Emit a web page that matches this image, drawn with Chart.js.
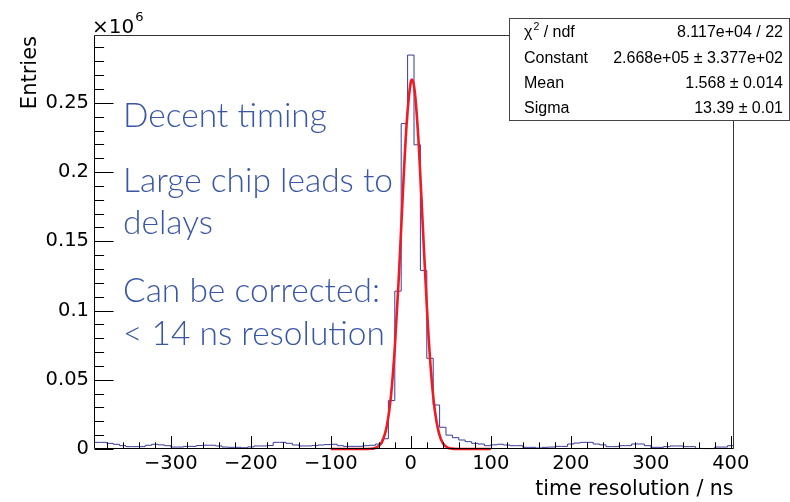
<!DOCTYPE html>
<html>
<head>
<meta charset="utf-8">
<script src="https://cdn.jsdelivr.net/npm/chart.js@4.4.1/dist/chart.umd.min.js"></script>
<style>
  html, body { margin: 0; padding: 0; background: #fff; }
  #wrap { width: 790px; height: 502px; }
</style>
</head>
<body>
<div id="wrap"><canvas id="c" width="790" height="502"></canvas></div>
<script>
// time resolution histogram, 100 bins of 8 ns starting at -396 ns
var BIN_LOW = -396;
var BIN_WIDTH = 8;
var binCounts = [
  4800, 4800, 4100, 3400, 2400, 1700, 1700, 1700, 2700, 3400,
  3000, 2400, 1400, 1400, 1900, 1900, 2500, 2700, 2700, 2200,
  1400, 1200, 1200, 900, 1500, 2200, 2200, 2500, 4800, 4800,
  4100, 2900, 2200, 2200, 2500, 2900, 3200, 3400, 2400, 1900,
  1900, 1900, 2400, 2700, 3600, 7400, 35000, 114000, 235000, 284500,
  219700, 129000, 65500, 31800, 15700, 10000, 8200, 6500, 5300, 4100,
  3600, 2400, 3000, 3400, 2900, 2400, 2400, 1200, 1200, 700,
  1200, 1400, 1900, 1900, 3600, 4300, 4800, 4800, 3600, 3000,
  1700, 1700, 2400, 2400, 3600, 3600, 2400, 1200, 1200, 1700,
  2200, 2200, 1700, 1700, 400, 300, 300, 1400, 1400, 2400
];

// gaussian fit curve
var fitX = [-100, -60, -50, -45, -40, -35, -30, -25, -20, -15, -10, -5, 0, 1.6, 5, 10, 15, 20, 25, 30, 35, 40, 45, 50, 60, 100];
var fitY = [0, 10, 160, 600, 2200, 6400, 16500, 37000, 73000, 124000, 184000, 236600, 265000, 266800, 258000, 219000, 161000, 103500, 57700, 28000, 11800, 4300, 1400, 380, 20, 0];

var xTicks = [-300, -200, -100, 0, 100, 200, 300, 400];
var yTicks = [0, 0.05, 0.1, 0.15, 0.2, 0.25];
var yTickLabels = ['0', '0.05', '0.1', '0.15', '0.2', '0.25'];
var X_MIN = -396, X_MAX = 404;
var Y_MAX = 0.299; // units of 1e6 entries

var statsNames = ['χ2 / ndf', 'Constant', 'Mean', 'Sigma'];
var statsValues = ['8.117e+04 / 22', '2.668e+05 \u00b1 3.377e+02', '1.568 \u00b1 0.014', '13.39 \u00b1 0.01'];

var slideLines = ['Decent timing', 'Large chip leads to', 'delays', 'Can be corrected:', '< 14 ns resolution'];

var histPoints = binCounts.map(function (c, i) {
  return { x: BIN_LOW + i * BIN_WIDTH, y: c / 1e6 };
});
histPoints.push({ x: BIN_LOW + binCounts.length * BIN_WIDTH, y: binCounts[binCounts.length - 1] / 1e6 });

var fitPoints = fitX.map(function (x, i) {
  return { x: x, y: fitY[i] / 1e6 };
});

var SANS = '"Liberation Sans", Arial, sans-serif';
var AXIS_FONT = '"DejaVu Sans", sans-serif';

var rootDecor = {
  id: 'rootDecor',
  afterDatasetsDraw: function (chart) {
    var ctx = chart.ctx;
    var a = chart.chartArea;
    var xs = chart.scales.x;
    var ys = chart.scales.y;
    var L = Math.round(a.left) + 0.5, R = Math.round(a.right) - 0.5;
    var T = Math.round(a.top) + 0.5, B = Math.round(a.bottom) - 0.5;
    ctx.save();

    // frame
    ctx.lineWidth = 1;
    ctx.strokeStyle = '#333';
    ctx.beginPath();
    ctx.moveTo(L, T); ctx.lineTo(R, T); ctx.lineTo(R, B);
    ctx.stroke();
    ctx.strokeStyle = '#000';
    ctx.beginPath();
    ctx.moveTo(L, T); ctx.lineTo(L, B); ctx.lineTo(R, B);
    ctx.stroke();

    // ticks, pointing inwards
    ctx.beginPath();
    var v, p;
    for (v = -380; v <= 400; v += 20) {
      p = Math.round(xs.getPixelForValue(v)) + 0.5;
      var len = (v % 100 === 0) ? 12.4 : 6.2;
      ctx.moveTo(p, B); ctx.lineTo(p, B - len);
    }
    for (var k = 0; k <= 29; k++) {
      p = Math.round(ys.getPixelForValue(k / 100)) + 0.5;
      var ylen = (k % 5 === 0) ? 19 : 9.6;
      ctx.moveTo(L, p); ctx.lineTo(L + ylen, p);
    }
    ctx.stroke();

    // axis titles
    ctx.fillStyle = '#000';
    ctx.font = '21px ' + AXIS_FONT;
    ctx.save();
    ctx.translate(36, 36);
    ctx.rotate(-Math.PI / 2);
    ctx.textAlign = 'right';
    ctx.textBaseline = 'alphabetic';
    ctx.fillText('Entries', 0, 0);
    ctx.restore();

    ctx.textAlign = 'right';
    ctx.textBaseline = 'alphabetic';
    ctx.font = '20.5px ' + AXIS_FONT;
    ctx.fillText('time resolution / ns', R, 495);

    ctx.textAlign = 'left';
    ctx.font = '20px ' + AXIS_FONT;
    ctx.fillText('\u00d710', 92, 33);
    var w10 = ctx.measureText('\u00d710').width;
    ctx.font = '13px ' + AXIS_FONT;
    ctx.fillText('6', 92 + w10 + 1, 21);

    // stats box
    ctx.fillStyle = '#fff';
    ctx.fillRect(509.5, 18.5, 280, 102);
    ctx.strokeStyle = '#444';
    ctx.strokeRect(509.5, 18.5, 280, 102);
    ctx.fillStyle = '#000';
    var rowBase = [37, 63, 88, 113];
    var SF = '16px ' + SANS;
    for (var r = 0; r < statsNames.length; r++) {
      ctx.textAlign = 'left';
      ctx.font = SF;
      if (r === 0) {
        ctx.fillText('\u03c7', 524, rowBase[r]);
        var wc = ctx.measureText('\u03c7').width;
        ctx.font = '10.5px ' + SANS;
        ctx.fillText('2', 524 + wc + 1, rowBase[r] - 7);
        var w2 = ctx.measureText('2').width;
        ctx.font = SF;
        ctx.fillText(' / ndf', 524 + wc + w2 + 1, rowBase[r]);
      } else {
        ctx.fillText(statsNames[r], 524, rowBase[r]);
      }
      ctx.textAlign = 'right';
      ctx.fillText(statsValues[r], 783, rowBase[r]);
    }

    // slide annotation
    ctx.fillStyle = '#3a57a6';
    ctx.textAlign = 'left';
    ctx.font = '300 33.5px Lato, "Open Sans", sans-serif';
    var lineBase = [127, 192, 234, 302, 345];
    for (var i = 0; i < slideLines.length; i++) {
      ctx.fillText(slideLines[i], 123, lineBase[i]);
    }
    ctx.restore();
  }
};

new Chart(document.getElementById('c'), {
  type: 'line',
  data: {
    datasets: [
      {
        label: 'gaus fit',
        data: fitPoints,
        borderColor: '#ef1b24',
        borderWidth: 2.6,
        pointRadius: 0,
        fill: false,
        cubicInterpolationMode: 'monotone',
        clip: false
      },
      {
        label: 'time resolution',
        data: histPoints,
        borderColor: '#3b3b98',
        borderWidth: 1,
        pointRadius: 0,
        fill: false,
        stepped: 'before',
        clip: false
      }
    ]
  },
  options: {
    responsive: false,
    animation: false,
    devicePixelRatio: 1,
    layout: { padding: { top: 35, right: 56, left: 0, bottom: 0 } },
    plugins: { legend: { display: false }, tooltip: { enabled: false } },
    scales: {
      x: {
        type: 'linear',
        min: X_MIN,
        max: X_MAX,
        grid: { display: false, drawTicks: false, tickLength: 0 },
        border: { display: false },
        afterBuildTicks: function (s) {
          s.ticks = xTicks.map(function (v) { return { value: v }; });
        },
        afterFit: function (s) { s.height = 53; },
        ticks: {
          color: '#000',
          padding: 3,
          maxRotation: 0,
          autoSkip: false,
          font: { family: AXIS_FONT, size: 19.5 },
          callback: function (v) { return v < 0 ? '\u2212' + (-v) : String(v); }
        }
      },
      y: {
        type: 'linear',
        min: 0,
        max: Y_MAX,
        grid: { display: false, drawTicks: false, tickLength: 0 },
        border: { display: false },
        afterBuildTicks: function (s) {
          s.ticks = yTicks.map(function (v) { return { value: v }; });
        },
        afterFit: function (s) { s.width = 94; },
        ticks: {
          color: '#000',
          padding: 5,
          autoSkip: false,
          font: { family: AXIS_FONT, size: 19.5 },
          callback: function (v, i) { return yTickLabels[i]; }
        }
      }
    }
  },
  plugins: [rootDecor]
});
</script>
</body>
</html>
